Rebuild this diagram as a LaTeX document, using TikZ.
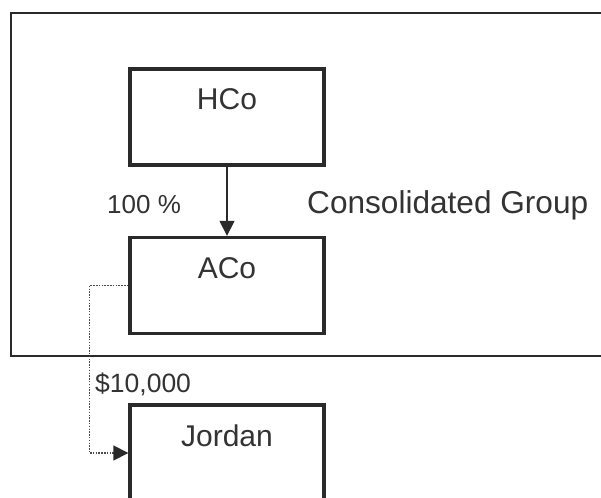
\documentclass[tikz,border=0pt]{standalone}
\usepackage{fontspec}
\setmainfont{Liberation Sans}
\usetikzlibrary{arrows.meta}
\definecolor{ink}{HTML}{2A2A2A}
\definecolor{txt}{HTML}{333333}
\begin{document}
\begin{tikzpicture}[x=1pt,y=-1pt,
  entity/.style={draw=ink,line width=3.4pt,rectangle,minimum width=194pt,
    inner xsep=0pt,inner ysep=0pt,text height=41pt,text depth=55pt,
    text=txt,font=\fontsize{30}{30}\selectfont},
  lbl/.style={inner sep=0pt,text=txt},
  own/.style={draw=ink,line width=1.7pt,-{Triangle[length=15pt,width=15pt]}},
  money/.style={draw=ink!85,line width=1.6pt,dash pattern=on 1.5pt off 1.3pt,
    -{Triangle[length=15pt,width=15pt,color=ink]}}]
\useasboundingbox (0,0) rectangle (601,497);
\clip (0,0) rectangle (601,497);
\fill[white] (0,0) rectangle (601,497);
\draw[ink,line width=2.7pt] (11,13) rectangle (640,356);
\node[entity] (hco) at (227,117) {HCo};
\node[entity] (aco) at (227,285.5) {ACo};
\node[entity] (jordan) at (227,453) {Jordan};
\node[lbl,anchor=base west,font=\fontsize{26}{26}\selectfont] (pct) at (107,213) {100 \%};
\node[lbl,anchor=base west,font=\fontsize{31.6}{31.6}\selectfont] (cg) at (307,213) {Consolidated Group};
\node[lbl,anchor=base west,font=\fontsize{26.5}{26.5}\selectfont] (amt) at (95,392) {\$10,000};
\draw[own] (hco.south) -- (aco.north);
\draw[money] (aco.west) -| ([xshift=-39pt]jordan.west) -- (jordan.west);
\end{tikzpicture}
\end{document}
